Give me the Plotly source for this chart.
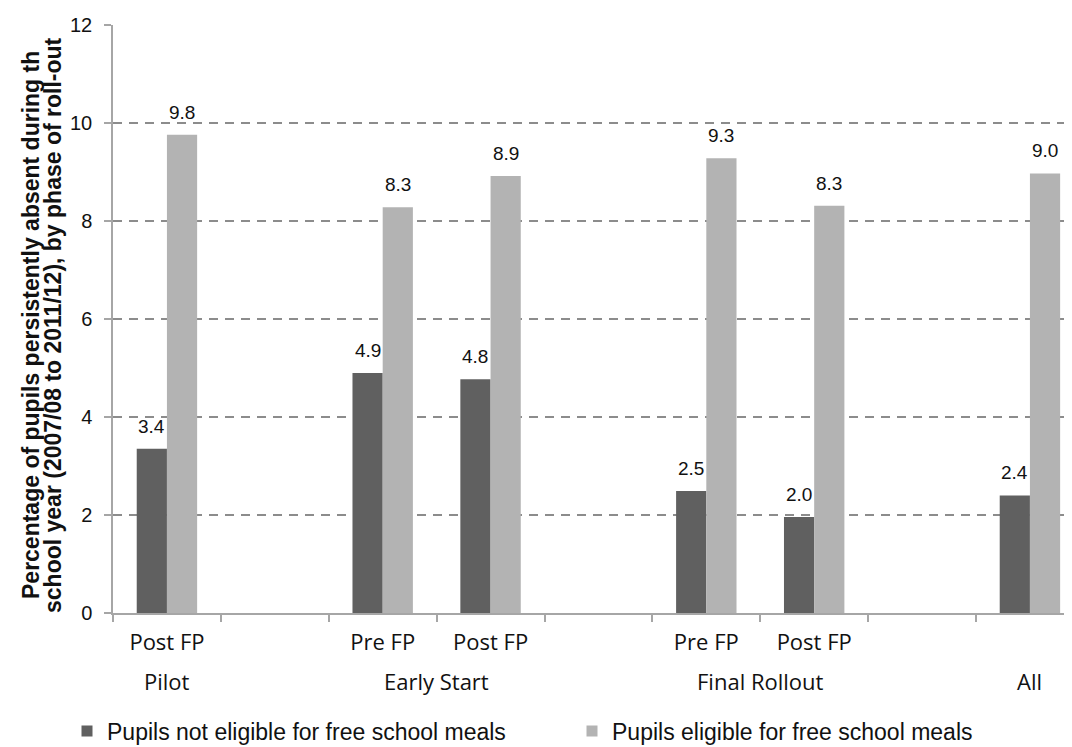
import plotly.graph_objects as go

# ---- data ----
slot_groups = ["Pilot", None, "Early Start", "Early Start", None,
               "Final Rollout", "Final Rollout", None, "All"]
slot_phases = ["Post FP", "", "Pre FP", "Post FP", "", "Pre FP", "Post FP", "", ""]
not_eligible = [3.35, None, 4.9, 4.77, None, 2.49, 1.96, None, 2.4]
eligible = [9.76, None, 8.28, 8.92, None, 9.28, 8.31, None, 8.97]
group_names = ["Pilot", "Early Start", "Final Rollout", "All"]
series_names = ["Pupils not eligible for free school meals",
                "Pupils eligible for free school meals"]
colors = ["#606060", "#b3b3b3"]
y_title_lines = ["Percentage of pupils persistently absent during th",
                 "school year (2007/08 to 2011/12), by phase of roll-out"]

BARGAP = 0.44
slots = list(range(len(slot_phases)))
bar_w = (1 - BARGAP) / 2

# page body has an 8px margin; figure is sized so it ends at the window edge
W, H = 1064, 739
ML, MT, MB = 105, 17, 134
PW = W - ML          # plot width
PH = H - MT - MB     # plot height


def px_to_paper_x(page_x):
    return (page_x - 8 - ML) / PW


def px_to_paper_y(page_y):
    return (H - MB - (page_y - 8)) / PH


fig = go.Figure()
annotations = []
legend_ids = ["legend", "legend2"]
for i, (name, vals, col) in enumerate(zip(series_names, [not_eligible, eligible], colors)):
    xs = [s for s, v in zip(slots, vals) if v is not None]
    ys = [v for v in vals if v is not None]
    fig.add_trace(go.Bar(
        x=xs, y=ys, name=name, marker=dict(color=col, line=dict(width=0)),
        showlegend=False,
    ))
    # value labels above bars
    off = (i - 0.5) * bar_w
    for x, y in zip(xs, ys):
        annotations.append(dict(
            x=x + off, y=y, xref="x", yref="y", text=f"{y:.1f}", showarrow=False,
            xanchor="center", yanchor="bottom", yshift=10,
            font=dict(family="Liberation Sans, Arial", size=19, color="#111"),
        ))
    # legend entry
    fig.add_trace(go.Scatter(
        x=[None], y=[None], mode="markers", name=name, legend=legend_ids[i],
        marker=dict(symbol="square", size=11, color=col),
    ))

# group labels
for g in group_names:
    idx = [s for s, gg in zip(slots, slot_groups) if gg == g]
    cx = sum(idx) / len(idx)
    annotations.append(dict(
        x=cx, y=px_to_paper_y(681), xref="x", yref="paper", text=g, showarrow=False,
        font=dict(family="Open Sans, sans-serif", size=22, color="#111"),
        xanchor="center", yanchor="middle",
    ))
# y-axis title (two lines)
for xpx, line in zip([31, 53], y_title_lines):
    annotations.append(dict(
        x=px_to_paper_x(xpx), y=px_to_paper_y(325), xref="paper", yref="paper",
        text=f"<b>{line}</b>", showarrow=False, textangle=-90,
        font=dict(family="Liberation Sans, Arial", size=23, color="#111"),
        xanchor="center", yanchor="middle",
    ))

legend_common = dict(
    orientation="h", y=px_to_paper_y(731), xanchor="left", yanchor="middle",
    font=dict(family="Liberation Sans, Arial", size=23, color="#111"),
    itemwidth=30, bgcolor="rgba(0,0,0,0)", borderwidth=0,
)
fig.update_layout(
    width=W, height=H,
    margin=dict(l=ML, r=0, t=MT, b=MB, autoexpand=False),
    paper_bgcolor="white", plot_bgcolor="white",
    barmode="group", bargap=BARGAP, bargroupgap=0,
    annotations=annotations,
    font=dict(family="Liberation Sans, Arial", color="#111"),
    legend=dict(x=px_to_paper_x(67), **legend_common),
    legend2=dict(x=px_to_paper_x(572), **legend_common),
    showlegend=True,
)
fig.update_xaxes(
    range=[-0.5, 8.39], tickmode="array", tickvals=slots, ticktext=slot_phases,
    ticks="", ticklabelstandoff=9,
    tickfont=dict(family="Open Sans, sans-serif", size=22, color="#111"),
    showline=True, linecolor="#a6a6a6", linewidth=1.5,
    showgrid=False, zeroline=False,
    minor=dict(tick0=-0.5, dtick=1, ticks="outside", ticklen=7,
               tickcolor="#a6a6a6", tickwidth=1.5, showgrid=False),
)
fig.update_yaxes(
    range=[0, 12], tickvals=[0, 2, 4, 6, 8, 10, 12],
    ticks="outside", ticklen=7, tickcolor="#a6a6a6", tickwidth=1.5,
    ticklabelstandoff=8,
    tickfont=dict(family="Liberation Sans, Arial", size=20, color="#111"),
    showline=True, linecolor="#a6a6a6", linewidth=1.5,
    showgrid=True, gridcolor="#8c8c8c", gridwidth=1.8, griddash="9px,7px",
    zeroline=False,
)

fig.write_html("out.html")
